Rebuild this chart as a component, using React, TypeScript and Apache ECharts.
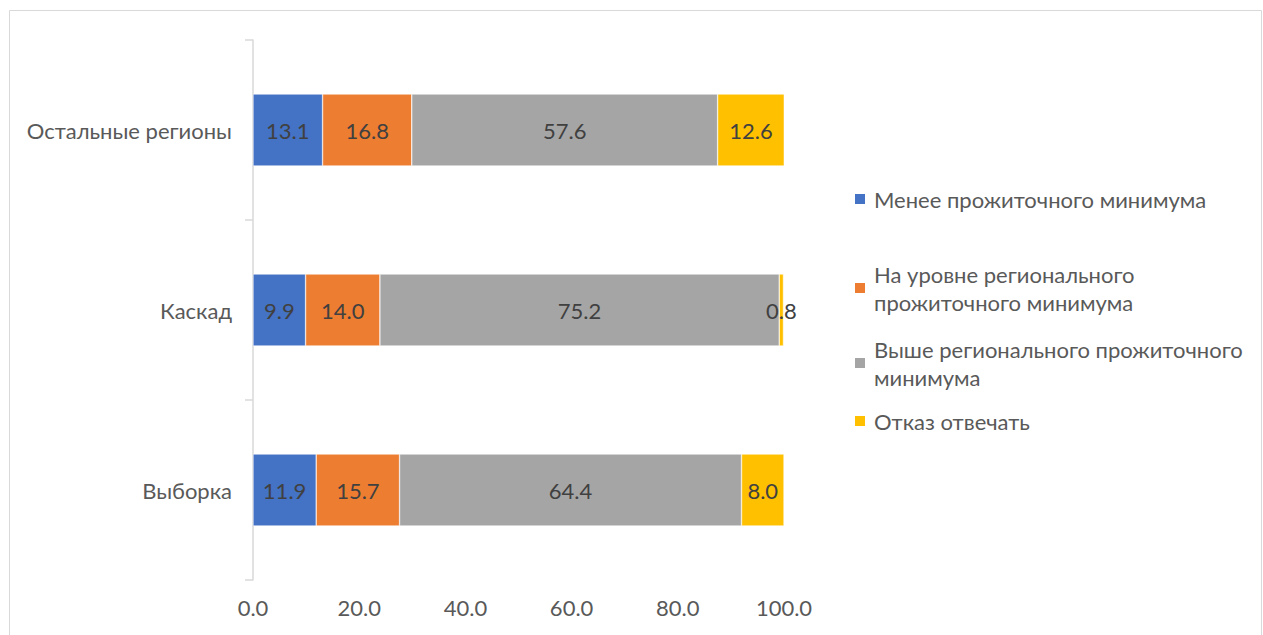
import React, { useEffect, useRef } from "react";
import * as echarts from "echarts";

const categories = ["Выборка", "Каскад", "Остальные регионы"];
const seriesNames = [
  "Менее прожиточного минимума",
  "На уровне регионального прожиточного минимума",
  "Выше регионального прожиточного минимума",
  "Отказ отвечать",
];
const legendLabels = [
  "Менее прожиточного минимума",
  "На уровне регионального\nпрожиточного минимума",
  "Выше регионального прожиточного\nминимума",
  "Отказ отвечать",
];
const belowMinimum = [11.9, 9.9, 13.1];
const atRegionalMinimum = [15.7, 14.0, 16.8];
const aboveRegionalMinimum = [64.4, 75.2, 57.6];
const refused = [8.0, 0.8, 12.6];
const seriesValues = [belowMinimum, atRegionalMinimum, aboveRegionalMinimum, refused];
const colors = ["#4472C4", "#ED7D31", "#A5A5A5", "#FFC000"];
const xMin = 0;
const xMax = 100;
const xStep = 20;

const FONT = "Lato";
const FS = 22;

export default function App() {
  const ref = useRef<HTMLDivElement>(null);
  useEffect(() => {
    const chart = echarts.init(ref.current!, null, { renderer: "svg" });
    const legendCenters = [201, 275, 350, 423];
    const LH = 28;
    const legends = seriesNames.map((name, i) => {
      const twoLine = legendLabels[i].includes("\n");
      const top = twoLine ? legendCenters[i] - LH * 1.5 + 13 : legendCenters[i] - LH / 2 - 2;
      return {
        data: [name],
        orient: "vertical",
        left: 853,
        top,
        padding: 0,
        itemWidth: 12,
        itemHeight: 12,
        itemGap: 0,
        icon: "rect",
        selectedMode: false,
        formatter: () => legendLabels[i],
        textStyle: {
          color: "#595959",
          fontFamily: FONT,
          fontSize: FS,
          lineHeight: LH,
          padding: twoLine ? [LH, 0, 0, 3] : [0, 0, 0, 3],
        },
      };
    });
    chart.setOption({
      animation: false,
      textStyle: { fontFamily: FONT },
      color: colors,
      grid: { left: 253, right: 479, top: 40, bottom: 55, containLabel: false },
      graphic: [
        {
          type: "rect",
          shape: { x: 9.5, y: 10.5, width: 1252, height: 700 },
          style: { fill: "none", stroke: "#D9D9D9", lineWidth: 1 },
          silent: true,
        },
      ],
      legend: legends,
      xAxis: {
        type: "value",
        min: xMin,
        max: xMax,
        interval: xStep,
        axisLine: { show: false },
        axisTick: { show: false },
        splitLine: { show: false },
        axisLabel: {
          color: "#595959",
          fontFamily: FONT,
          fontSize: FS,
          margin: 16,
          formatter: (v: number) => v.toFixed(1),
        },
      },
      yAxis: {
        type: "category",
        data: categories,
        axisLine: { show: true, lineStyle: { color: "#D9D9D9", width: 1.5 } },
        axisTick: { show: true, inside: false, length: 8, lineStyle: { color: "#D9D9D9", width: 1.5 } },
        axisLabel: { color: "#595959", fontFamily: FONT, fontSize: FS, margin: 21 },
        splitLine: { show: false },
      },
      series: seriesNames.map((name, i) => ({
        name,
        type: "bar",
        stack: "total",
        barWidth: "40%",
        data: seriesValues[i],
        itemStyle: { color: colors[i], borderColor: "#ffffff", borderWidth: 0.5 },
        label: {
          show: true,
          position: "inside",
          color: "#404040",
          fontFamily: FONT,
          fontSize: FS,
          formatter: (p: any) => Number(p.value).toFixed(1),
        },
      })),
    });
    return () => chart.dispose();
  }, []);
  return (
    <div
      ref={ref}
      style={{ position: "fixed", left: 0, top: 0, width: 1263, height: 635, background: "#fff" }}
    />
  );
}
